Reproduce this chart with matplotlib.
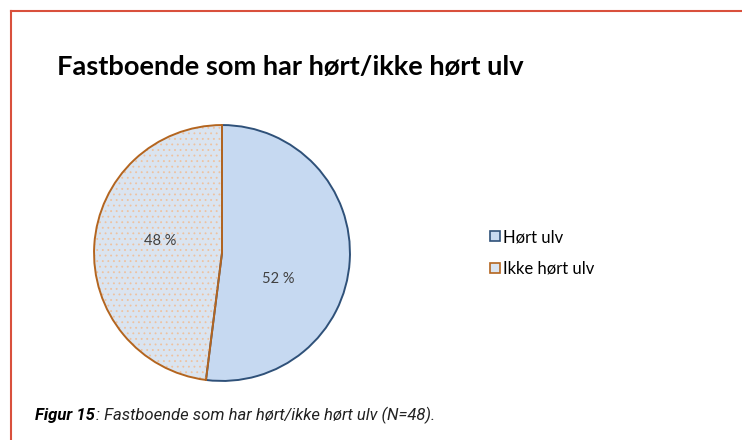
import matplotlib.pyplot as plt
from matplotlib.patches import Wedge, Rectangle

labels = ['Hørt ulv', 'Ikke hørt ulv']
shares = [52, 48]
title = 'Fastboende som har hørt/ikke hørt ulv'
caption_bold = 'Figur 15'
caption_rest = ': Fastboende som har hørt/ikke hørt ulv (N=48).'

fills = ['#c6d9f1', '#dae4f0']
edges = ['#2f5179', '#b4651f']

plt.rcParams['hatch.linewidth'] = 0.6
fig = plt.figure(figsize=(7.42, 4.40), dpi=100)

# red frame (left + top only visible)
fig.add_artist(plt.Line2D([11/742, 1], [1 - 11/440, 1 - 11/440], color='#d9503c', lw=1.5))
fig.add_artist(plt.Line2D([11/742, 11/742], [0, 1 - 11/440], color='#d9503c', lw=1.5))

fig.text(57/742, 1 - 67/440, title, fontsize=19.6, fontweight='bold',
         family=['Lato', 'DejaVu Sans'], va='center', ha='left')

ax = fig.add_axes([(222 - 130)/742, (440 - 383)/440, 260/742, 260/440])
wedges, _ = ax.pie(shares, colors=fills, startangle=90, counterclock=False,
                   wedgeprops=dict(linewidth=1.4))
for w, ec in zip(wedges, edges):
    w.set_edgecolor(ec)

# dotted pattern on the second slice
w2 = wedges[1]
ax.add_patch(Wedge(w2.center, w2.r, w2.theta1, w2.theta2, facecolor=fills[1], lw=0, zorder=0))
ax.add_patch(Wedge(w2.center, w2.r, w2.theta1, w2.theta2, facecolor='none',
                   edgecolor='#eec2a0', hatch='...', lw=0, zorder=1))
w2.set_facecolor('none')
w2.set_zorder(3)

ax.text(0.44, -0.2, f'{shares[0]} %', ha='center', va='center', fontsize=10.5,
        family=['Lato', 'DejaVu Sans'], color='#404040', zorder=5)
ax.text(-0.48, 0.09, f'{shares[1]} %', ha='center', va='center', fontsize=10.5,
        family=['Lato', 'DejaVu Sans'], color='#404040', zorder=5)
ax.set_xlim(-1.016, 1.016)
ax.set_ylim(-1.016, 1.016)
ax.set_aspect('equal')
ax.axis('off')

handles = [Rectangle((0, 0), 1, 1, facecolor=fills[0], edgecolor=edges[0], lw=1.2),
           Rectangle((0, 0), 1, 1, facecolor=fills[1], edgecolor=edges[1], lw=1.2)]
fig.legend(handles, labels, loc='center left', bbox_to_anchor=(475/742, 1 - 253/440),
           frameon=False, handlelength=0.6, handleheight=0.6, handletextpad=0.2,
           labelspacing=0.95, prop=dict(family=['Lato', 'DejaVu Sans'], size=12))

cap = fig.text(35/742, 1 - 415/440, caption_bold, fontsize=12, fontweight='bold', style='italic',
               family=['Roboto', 'DejaVu Sans'], va='center', ha='left')
fig.canvas.draw()
bb = cap.get_window_extent()
fig.text(bb.x1 / fig.bbox.width + 0.001, 1 - 415/440, caption_rest, fontsize=12, style='italic',
         family=['Roboto', 'DejaVu Sans'], va='center', ha='left', color='#222222')

fig.savefig('out.png', dpi=100)
